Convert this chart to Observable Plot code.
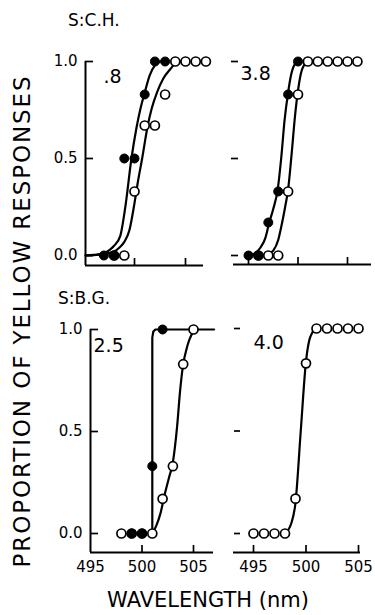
<!DOCTYPE html>
<html><head><meta charset="utf-8">
<script src="https://cdn.jsdelivr.net/npm/d3@7"></script>
<script src="https://cdn.jsdelivr.net/npm/@observablehq/plot@0.6"></script>
<style>
html,body{margin:0;padding:0;background:#fff;}
#root{position:relative;width:375px;height:615px;overflow:hidden;font-family:"DejaVu Sans",sans-serif;color:#000;background:#fff;}
#root svg{position:absolute;left:0;top:0;background:transparent !important;overflow:visible;}
.lbl{position:absolute;white-space:nowrap;line-height:1;}
</style></head><body><div id="root"></div>
<script>
// ---------- texts / ticks ----------
const xTickValues = [495, 500, 505];
const yTickValues = [0, 0.5, 1];
const subjectLabels = ["S:C.H.", "S:B.G."];
const panelNumbers = [".8", "3.8", "2.5", "4.0"];
const axisTitleY = "PROPORTION OF YELLOW RESPONSES";
const axisTitleX = "WAVELENGTH (nm)";

// ---------- S:C.H., .8 ----------
const ch08FilledWl = [497, 498, 499, 500, 501, 502, 503];
const ch08FilledP  = [0, 0, 0.5, 0.5, 0.83, 1, 1];
const ch08OpenWl   = [498, 499, 500, 501, 502, 503, 504, 505, 506, 507];
const ch08OpenP    = [0, 0, 0.33, 0.67, 0.67, 0.83, 1, 1, 1, 1];
const ch08FilledFitWl = [495.2, 496, 497, 497.6, 498, 498.6, 499.1, 499.7, 500.2, 500.6, 501, 501.5, 502, 502.5];
const ch08FilledFitP  = [0, 0.003, 0.012, 0.03, 0.05, 0.1, 0.25, 0.5, 0.66, 0.76, 0.84, 0.93, 0.98, 1];
const ch08OpenFitWl = [495.2, 496, 497, 498, 498.5, 499, 499.5, 500, 500.3, 500.75, 501.3, 501.7, 502.2, 502.8, 503.5, 504, 504.6];
const ch08OpenFitP  = [0, 0.002, 0.008, 0.02, 0.04, 0.07, 0.13, 0.27, 0.37, 0.5, 0.67, 0.76, 0.84, 0.91, 0.96, 0.99, 1];

// ---------- S:C.H., 3.8 ----------
const ch38FilledWl = [495, 496, 497, 498, 499, 500];
const ch38FilledP  = [0, 0, 0.17, 0.33, 0.83, 1];
const ch38OpenWl   = [496, 497, 498, 499, 500, 501, 502, 503, 504, 505, 506];
const ch38OpenP    = [0, 0, 0, 0.33, 0.83, 1, 1, 1, 1, 1, 1];
const ch38FilledFitWl = [495, 495.6, 496.2, 496.7, 497.1, 497.5, 497.95, 498.3, 498.65, 499, 499.3, 499.6, 500];
const ch38FilledFitP  = [0, 0.01, 0.04, 0.09, 0.17, 0.24, 0.34, 0.5, 0.7, 0.84, 0.93, 0.98, 1];
const ch38OpenFitWl = [496, 497, 497.5, 498, 498.4, 498.7, 499, 499.35, 499.7, 500, 500.3, 500.6, 501];
const ch38OpenFitP  = [0, 0.008, 0.025, 0.08, 0.17, 0.25, 0.34, 0.52, 0.72, 0.85, 0.94, 0.98, 1];

// ---------- S:B.G., 2.5 ----------
const bg25FilledWl = [499, 500, 501, 502];
const bg25FilledP  = [0, 0, 0.33, 1];
const bg25OpenWl   = [498, 499, 500, 501, 502, 503, 504, 505];
const bg25OpenP    = [0, 0, 0, 0, 0.17, 0.33, 0.83, 1];
const bg25FilledFitWl = [501, 501, 501.1, 501.3, 507];
const bg25FilledFitP  = [0, 0.96, 0.99, 1, 1];
const bg25OpenFitWl = [501, 501.4, 501.8, 502.2, 502.6, 503, 503.4, 503.7, 504, 504.3, 504.6, 505, 505.3];
const bg25OpenFitP  = [0, 0.04, 0.1, 0.19, 0.27, 0.35, 0.52, 0.7, 0.83, 0.9, 0.95, 0.99, 1];

// ---------- S:B.G., 4.0 ----------
const bg40OpenWl = [495, 496, 497, 498, 499, 500, 501, 502, 503, 504, 505];
const bg40OpenP  = [0, 0, 0, 0, 0.17, 0.83, 1, 1, 1, 1, 1];
const bg40FitWl  = [498, 498.6, 499, 499.5, 500, 500.3, 500.6, 501];
const bg40FitP   = [0, 0.05, 0.15, 0.5, 0.84, 0.94, 0.98, 1];

// ---------- layout (pixels) ----------
const panels = [
  {xPx: [83, 185], yPx: [255, 61], axisPx: 265, axisFrom: 85, axisTo: 203, ticks: [500, 505], yAxisPx: 85,
   xLabels: false, label: panelNumbers[0], labelPx: [103, 76],
   fits: [[ch08FilledFitWl, ch08FilledFitP, "monotone-x"], [ch08OpenFitWl, ch08OpenFitP, "monotone-x"]],
   open: [ch08OpenWl, ch08OpenP], filled: [ch08FilledWl, ch08FilledP]},
  {xPx: [248, 347], yPx: [255, 61], axisPx: 264, axisFrom: 233, axisTo: 371, ticks: [495, 500, 505], dashPx: [231, 238],
   xLabels: false, label: panelNumbers[1], labelPx: [240, 73],
   fits: [[ch38FilledFitWl, ch38FilledFitP, "monotone-x"], [ch38OpenFitWl, ch38OpenFitP, "monotone-x"]],
   open: [ch38OpenWl, ch38OpenP], filled: [ch38FilledWl, ch38FilledP]},
  {xPx: [90, 193], yPx: [533, 329], axisPx: 552, axisFrom: 90, axisTo: 213, ticks: [500, 505], yAxisPx: 90,
   xLabels: true, label: panelNumbers[2], labelPx: [93, 345],
   fits: [[bg25FilledFitWl, bg25FilledFitP, "linear"], [bg25OpenFitWl, bg25OpenFitP, "monotone-x"]],
   open: [bg25OpenWl, bg25OpenP], filled: [bg25FilledWl, bg25FilledP]},
  {xPx: [253, 358], yPx: [533, 328], axisPx: 552, axisFrom: 233, axisTo: 360, ticks: [495, 500, 505], dashPx: [234, 240],
   xLabels: true, label: panelNumbers[3], labelPx: [253, 342],
   fits: [[bg40FitWl, bg40FitP, "monotone-x"]],
   open: [bg40OpenWl, bg40OpenP], filled: null}
];

const root = document.getElementById("root");

function drawPanel(s) {
  const [x0, x1] = s.xPx, [y0, y1] = s.yPx;
  const ix = p => 495 + (p - x0) / (x1 - x0) * 10;
  const iy = p => (p - y0) / (y1 - y0);
  const base = iy(s.axisPx);
  const marks = [];
  marks.push(Plot.ruleY([base], {x1: ix(s.axisFrom), x2: ix(s.axisTo), stroke: "#000", strokeWidth: 2}));
  marks.push(Plot.ruleX(s.ticks, {y1: base, y2: iy(s.axisPx - 7), stroke: "#000", strokeWidth: 1.7}));
  if (s.yAxisPx != null) {
    marks.push(Plot.ruleX([ix(s.yAxisPx)], {y1: base, y2: 1, stroke: "#000", strokeWidth: 2}));
    marks.push(Plot.ruleY(yTickValues, {x1: ix(s.yAxisPx), x2: ix(s.yAxisPx + 8), stroke: "#000", strokeWidth: 1.7}));
    marks.push(Plot.text(yTickValues, {x: ix(s.yAxisPx), y: d => d, dx: -8, textAnchor: "end",
      text: d => d.toFixed(1), fontSize: 15, fill: "#000"}));
  } else {
    marks.push(Plot.ruleY(yTickValues, {x1: ix(s.dashPx[0]), x2: ix(s.dashPx[1]), stroke: "#000", strokeWidth: 1.7}));
  }
  if (s.xLabels) {
    marks.push(Plot.text(xTickValues, {x: d => d, y: base, dy: 15, text: d => String(d), fontSize: 15, fill: "#000"}));
  }
  for (const [wl, p, curve] of s.fits) {
    marks.push(Plot.line(d3.zip(wl, p), {x: d => d[0], y: d => d[1], curve, stroke: "#000", strokeWidth: 2.2}));
  }
  marks.push(Plot.dot(d3.zip(s.open[0], s.open[1]), {x: d => d[0], y: d => d[1], r: 4.5,
    fill: "#fff", stroke: "#000", strokeWidth: 1.7}));
  if (s.filled) {
    marks.push(Plot.dot(d3.zip(s.filled[0], s.filled[1]), {x: d => d[0], y: d => d[1], r: 4.5,
      fill: "#000", stroke: "#000", strokeWidth: 1}));
  }
  marks.push(Plot.text([s.label], {x: ix(s.labelPx[0]), y: iy(s.labelPx[1]), textAnchor: "start",
    text: d => d, fontSize: 19, fill: "#000"}));
  const svg = Plot.plot({
    width: 375, height: 615,
    x: {type: "linear", domain: [495, 505], range: [x0, x1], axis: null},
    y: {type: "linear", domain: [0, 1], range: [y0, y1], axis: null},
    style: {background: "transparent", fontFamily: "DejaVu Sans, sans-serif", overflow: "visible"},
    marks
  });
  root.appendChild(svg);
}
panels.forEach(drawPanel);

function addLabel(text, css) {
  const d = document.createElement("div");
  d.className = "lbl";
  d.textContent = text;
  Object.assign(d.style, css);
  root.appendChild(d);
}
addLabel(subjectLabels[0], {left: "68px", top: "12px", fontSize: "17px"});
addLabel(subjectLabels[1], {left: "58px", top: "290px", fontSize: "17px"});
addLabel(axisTitleY, {left: "22px", top: "321px", fontSize: "23px", letterSpacing: "1.9px",
  transform: "translate(-50%,-50%) rotate(-90deg)"});
addLabel(axisTitleX, {left: "208px", top: "590px", fontSize: "21px", transform: "translateX(-50%)"});
</script></body></html>
